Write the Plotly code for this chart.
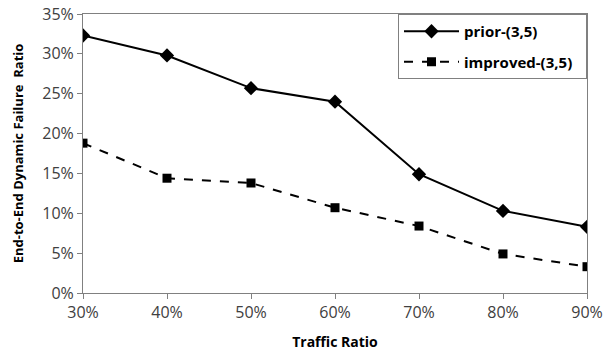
import plotly.graph_objects as go

categories = ["30%", "40%", "50%", "60%", "70%", "80%", "90%"]
prior_vals = [32.3, 29.8, 25.7, 24.0, 14.9, 10.3, 8.3]
improved_vals = [18.8, 14.4, 13.8, 10.7, 8.4, 4.9, 3.3]
y_tick_vals = [0, 5, 10, 15, 20, 25, 30, 35]
y_tick_text = ["0%", "5%", "10%", "15%", "20%", "25%", "30%", "35%"]
series_names = ["prior-(3,5)", "improved-(3,5)"]

fig = go.Figure()
fig.add_trace(go.Scatter(
    x=categories, y=prior_vals, name=series_names[0] + "\u00a0\u00a0", mode="lines+markers",
    legendgroup="a",
    line=dict(color="black", width=2),
    marker=dict(symbol="diamond", size=11, color="black"),
))
fig.add_trace(go.Scatter(
    x=categories, y=improved_vals, name=series_names[1] + "\u00a0\u00a0", mode="lines+markers",
    legendgroup="b",
    line=dict(color="black", width=2, dash="dash"),
    marker=dict(symbol="square", size=9, color="black"),
))

fig.update_layout(
    width=607, height=351,
    margin=dict(l=83, r=20, t=14, b=58),
    paper_bgcolor="white", plot_bgcolor="white",
    font=dict(family="Open Sans, sans-serif", size=16, color="#404040"),
    showlegend=True,
    legend=dict(
        x=1, y=1, xanchor="right", yanchor="top",
        bordercolor="#808080", borderwidth=1, bgcolor="white",
        font=dict(family="Open Sans, sans-serif", size=15, color="black", weight="bold"),
        traceorder="grouped", tracegroupgap=8, itemwidth=55,
    ),
    xaxis=dict(
        type="category", range=[0, 6], automargin=False, ticklabeloverflow="allow",
        showline=True, linecolor="#808080", linewidth=1, mirror=True,
        ticks="outside", ticklen=5, tickcolor="#808080",
        showgrid=False, zeroline=False,
        title=dict(text="<b>Traffic Ratio</b>", font=dict(family="Open Sans, sans-serif", size=14, color="black")),
    ),
    yaxis=dict(
        range=[0, 35], tickvals=y_tick_vals, ticktext=y_tick_text, automargin=False,
        ticklabeloverflow="allow",
        showline=True, linecolor="#808080", linewidth=1, mirror=True,
        ticks="outside", ticklen=5, tickcolor="#808080",
        showgrid=False, zeroline=False,
        title=dict(text="<b>End-to-End Dynamic Failure  Ratio</b>", font=dict(family="Open Sans, sans-serif", size=13, color="black")),
    ),
)

# remove the page's default 8px body margin so the figure fills the window exactly
fig.write_html(
    "out.html",
    config={"displayModeBar": False},
    post_script="document.body.style.margin='0';document.body.style.overflow='hidden';",
)
